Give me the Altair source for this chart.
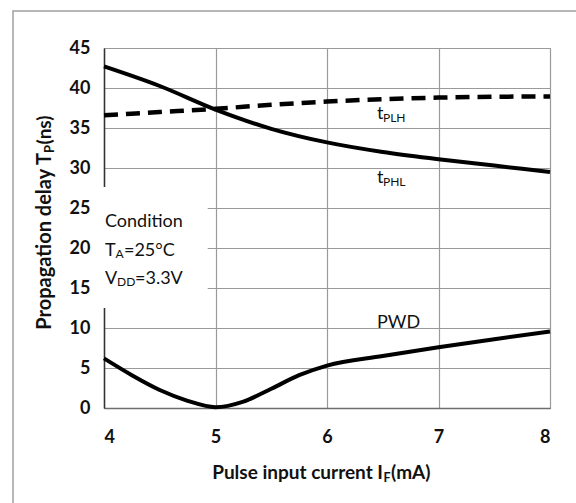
import altair as alt
import pandas as pd

# ---- data ----
x_ticks = [4, 5, 6, 7, 8]
y_ticks = [0, 5, 10, 15, 20, 25, 30, 35, 40, 45]

cur_x = [4, 4.5, 5, 5.5, 6, 6.5, 7, 7.5, 8]
tphl = [42.7, 40.25, 37.3, 34.9, 33.2, 32.0, 31.1, 30.3, 29.5]
tplh = [36.6, 37.0, 37.4, 37.9, 38.3, 38.6, 38.8, 38.9, 38.95]

pwd_x = [4, 4.25, 4.5, 4.75, 5, 5.25, 5.5, 5.75, 6, 6.5, 7, 7.5, 8]
pwd = [6.2, 4.1, 2.25, 0.9, 0.1, 0.8, 2.4, 4.1, 5.3, 6.5, 7.6, 8.6, 9.55]

# annotation texts (normal size) and their positions in data units
ann_text = ["Condition", "T", "=25°C", "V", "=3.3V", "t", "t", "PWD"]
ann_x = [4.009, 4.009, 4.179, 4.009, 4.278, 6.448, 6.448, 6.448]
ann_y = [22.66, 19.0, 19.0, 15.5, 15.5, 36.125, 28.125, 10.0]

# subscripts
sub_text = ["A", "DD", "PLH", "PHL"]
sub_x = [4.104, 4.117, 6.502, 6.502]
sub_y = [18.78, 15.28, 35.75, 27.75]

# condition box extent (data units)
box_x = [3.99]
box_x2 = [4.93]
box_y = [12.5]
box_y2 = [27.63]

FONT = "Lato"
INK = "#111111"

solid_df = pd.DataFrame({
    "x": cur_x + pwd_x,
    "y": tphl + pwd,
    "series": ["tPHL"] * len(cur_x) + ["PWD"] * len(pwd_x),
})
dash_df = pd.DataFrame({"x": cur_x, "y": tplh, "series": ["tPLH"] * len(cur_x)})
ann_df = pd.DataFrame({"x": ann_x, "y": ann_y, "t": ann_text})
sub_df = pd.DataFrame({"x": sub_x, "y": sub_y, "t": sub_text})
box_df = pd.DataFrame({"x": box_x, "x2": box_x2, "y": box_y, "y2": box_y2})
one = pd.DataFrame({"a": [0]})


def X(field="x"):
    return alt.X(f"{field}:Q", scale=alt.Scale(domain=[4, 8], nice=False),
                 axis=alt.Axis(values=x_ticks, title=None))


def Y(field="y"):
    return alt.Y(f"{field}:Q", scale=alt.Scale(domain=[0, 45], nice=False),
                 axis=alt.Axis(values=y_ticks, title=None))


frame = alt.Chart(one).mark_rect(fill="white", fillOpacity=0, stroke="#a0a0a0",
                                 strokeWidth=1.5, clip=False).encode(
    x=alt.value(-91), x2=alt.value(500), y=alt.value(-37), y2=alt.value(480))

solid = alt.Chart(solid_df).mark_line(color="black", strokeWidth=4,
                                      interpolate="monotone").encode(
    x=X(), y=Y(), detail="series:N")

dashed = alt.Chart(dash_df).mark_line(color="black", strokeWidth=4.5,
                                      strokeDash=[14, 8],
                                      interpolate="monotone").encode(
    x=X(), y=Y(), detail="series:N")

box = alt.Chart(box_df).mark_rect(fill="white", clip=False).encode(
    x=X(), x2="x2", y=Y(), y2="y2")

ann = alt.Chart(ann_df).mark_text(font=FONT, fontSize=18, align="left",
                                  baseline="alphabetic", color=INK).encode(
    x=X(), y=Y(), text="t:N")

sub = alt.Chart(sub_df).mark_text(font=FONT, fontSize=12, align="left",
                                  baseline="alphabetic", color=INK).encode(
    x=X(), y=Y(), text="t:N")

# axis titles with subscripts (pixel offsets relative to plot area)
xt1 = alt.Chart(one).mark_text(text="Pulse input current I", font=FONT, fontSize=19,
                               fontWeight="bold", align="right", baseline="alphabetic",
                               color=INK).encode(x=alt.value(279), y=alt.value(431))
xt2 = alt.Chart(one).mark_text(text="F", font=FONT, fontSize=12.5, fontWeight="bold",
                               align="left", baseline="alphabetic",
                               color=INK).encode(x=alt.value(279.5), y=alt.value(433.5))
xt3 = alt.Chart(one).mark_text(text="(mA)", font=FONT, fontSize=19, fontWeight="bold",
                               align="left", baseline="alphabetic",
                               color=INK).encode(x=alt.value(287), y=alt.value(431))

yt1 = alt.Chart(one).mark_text(text="Propagation delay  T", font=FONT, fontSize=20,
                               fontWeight="bold", align="right", baseline="alphabetic",
                               angle=270, color=INK).encode(x=alt.value(-53), y=alt.value(105))
yt2 = alt.Chart(one).mark_text(text="P", font=FONT, fontSize=13, fontWeight="bold",
                               align="left", baseline="alphabetic", angle=270,
                               color=INK).encode(x=alt.value(-50.5), y=alt.value(105))
yt3 = alt.Chart(one).mark_text(text="(ns)", font=FONT, fontSize=19, fontWeight="bold",
                               align="left", baseline="alphabetic", angle=270,
                               color=INK).encode(x=alt.value(-53), y=alt.value(96.5))

chart = alt.layer(
    frame, solid, dashed, box, ann, sub, xt1, xt2, xt3, yt1, yt2, yt3
).properties(
    width=446, height=360,
    padding={"left": 104, "top": 48, "right": 26, "bottom": 95},
    autosize="none",
    background="white",
).configure_view(
    stroke="#999999", strokeWidth=1
).configure_axis(
    grid=True, gridColor="#9a9a9a", gridWidth=1.2, gridOpacity=1,
    ticks=False, labelFont=FONT, labelFontSize=18, labelFontWeight="bold",
    labelColor=INK,
).configure_axisX(
    domainColor="#6e6e6e", domainWidth=1.5, labelPadding=20,
).configure_axisY(
    domainColor="#333333", domainWidth=1.5, labelPadding=14,
)

chart.save("out.html", embed_options={"renderer": "svg", "actions": False})
